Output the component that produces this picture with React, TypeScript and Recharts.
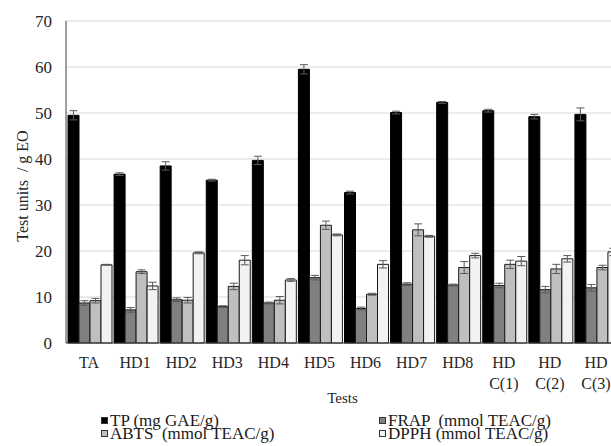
import { BarChart, Bar, XAxis, YAxis, CartesianGrid, ErrorBar, Legend } from "recharts";

// values
const categories = ["TA", "HD1", "HD2", "HD3", "HD4", "HD5", "HD6", "HD7", "HD8", "HD C(1)", "HD C(2)", "HD C(3)"];
const tpValues = [49.5, 36.7, 38.5, 35.4, 39.7, 59.5, 32.7, 50.1, 52.3, 50.5, 49.2, 49.7];
const tpErrors = [1.0, 0.3, 0.9, 0.2, 0.9, 1.0, 0.3, 0.3, 0.2, 0.3, 0.5, 1.4];
const frapValues = [8.7, 7.2, 9.4, 7.9, 8.7, 14.2, 7.5, 12.8, 12.6, 12.5, 11.6, 12.0];
const frapErrors = [0.5, 0.5, 0.4, 0.2, 0.2, 0.5, 0.3, 0.3, 0.2, 0.5, 0.7, 0.7];
const abtsValues = [9.2, 15.5, 9.3, 12.3, 9.3, 25.6, 10.6, 24.6, 16.4, 17.1, 16.1, 16.4];
const abtsErrors = [0.5, 0.4, 0.6, 0.7, 0.8, 0.9, 0.2, 1.3, 1.3, 0.9, 1.0, 0.5];
const dpphValues = [17.0, 12.4, 19.6, 18.0, 13.7, 23.5, 17.1, 23.2, 19.0, 17.8, 18.3, 19.8];
const dpphErrors = [0.1, 0.8, 0.2, 1.0, 0.3, 0.2, 0.8, 0.2, 0.5, 1.0, 0.7, 0.8];
const yTicks = [0, 10, 20, 30, 40, 50, 60, 70];
const seriesNames = ["TP (mg GAE/g)", "FRAP  (mmol TEAC/g)", "ABTS  (mmol TEAC/g)", "DPPH (mmol TEAC/g)"];
const seriesColors = ["#000000", "#808080", "#bfbfbf", "#f2f2f2"];

const data = categories.map((name, i) => ({
  name,
  tp: tpValues[i],
  tpErr: tpErrors[i],
  frap: frapValues[i],
  frapErr: frapErrors[i],
  abts: abtsValues[i],
  abtsErr: abtsErrors[i],
  dpph: dpphValues[i],
  dpphErr: dpphErrors[i],
}));

const FONT = "'Liberation Serif', 'Times New Roman', serif";
const TEXT = "#262626";

function CategoryTick({ x, y, payload }: any) {
  const lines = String(payload.value).split(" ");
  return (
    <text x={x} y={y} textAnchor="middle" fill={TEXT} fontSize={16} fontFamily={FONT}>
      {lines.map((l, i) => (
        <tspan key={i} x={x} dy={i === 0 ? 25 : 21}>{l}</tspan>
      ))}
    </text>
  );
}

function YTitle() {
  // rotated axis title, centred on the plot's vertical middle
  const cx = 28;
  const cy = 186;
  return (
    <text x={cx} y={cy} transform={`rotate(-90 ${cx} ${cy})`} textAnchor="middle" fill={TEXT} fontSize={16} fontFamily={FONT} style={{ whiteSpace: "pre" }}>
      {"Test units  / g EO"}
    </text>
  );
}

function LegendBox() {
  // TP, FRAP on the first row; ABTS, DPPH on the second
  return (
    <div style={{ position: "relative", width: 611, height: 28, fontFamily: FONT, fontSize: 17, color: "#1a1a1a" }}>
      {seriesNames.map((label, i) => (
        <div
          key={label}
          style={{
            position: "absolute",
            left: i % 2 === 0 ? 101 : 379,
            top: i < 2 ? 0 : 13,
            lineHeight: "13px",
            whiteSpace: "pre",
          }}
        >
          <span
            style={{
              display: "inline-block",
              width: 5,
              height: 5,
              marginRight: 2,
              verticalAlign: "2px",
              background: seriesColors[i],
              border: "1px solid #333",
            }}
          />
          {label}
        </div>
      ))}
    </div>
  );
}

export default function App() {
  return (
    <div style={{ position: "fixed", left: 0, top: 0, width: 611, height: 446, overflow: "hidden", background: "#fff", fontFamily: FONT }}>
      <BarChart
        width={640}
        height={446}
        data={data}
        margin={{ top: 21, right: 21, left: 0, bottom: 41 }}
        barGap={0}
        barCategoryGap={2}
      >
        <CartesianGrid vertical={false} stroke="#d9d9d9" />
        <XAxis
          dataKey="name"
          height={62}
          tickLine={false}
          tickSize={0}
          tickMargin={0}
          axisLine={{ stroke: "#404040" }}
          tick={<CategoryTick />}
          interval={0}
          label={{ value: "Tests", position: "insideBottom", offset: 2, fontSize: 15, fill: TEXT, fontFamily: FONT }}
        />
        <YAxis
          width={66}
          domain={[0, 70]}
          ticks={yTicks}
          tickLine={false}
          tickSize={0}
          tickMargin={14}
          axisLine={{ stroke: "#404040" }}
          tick={{ fontSize: 17, fill: TEXT, fontFamily: FONT }}
        />
        <Legend verticalAlign="middle" align="center" content={<LegendBox />} wrapperStyle={{ top: 414, left: 0 }} />
        <Bar dataKey="tp" name={seriesNames[0]} fill={seriesColors[0]} stroke="#000" strokeWidth={1} isAnimationActive={false}>
          <ErrorBar dataKey="tpErr" width={4} stroke="#595959" strokeWidth={1} isAnimationActive={false} />
        </Bar>
        <Bar dataKey="frap" name={seriesNames[1]} fill={seriesColors[1]} stroke="#1a1a1a" strokeWidth={1} isAnimationActive={false}>
          <ErrorBar dataKey="frapErr" width={4} stroke="#595959" strokeWidth={1} isAnimationActive={false} />
        </Bar>
        <Bar dataKey="abts" name={seriesNames[2]} fill={seriesColors[2]} stroke="#1a1a1a" strokeWidth={1} isAnimationActive={false}>
          <ErrorBar dataKey="abtsErr" width={4} stroke="#595959" strokeWidth={1} isAnimationActive={false} />
        </Bar>
        <Bar dataKey="dpph" name={seriesNames[3]} fill={seriesColors[3]} stroke="#1a1a1a" strokeWidth={1} isAnimationActive={false}>
          <ErrorBar dataKey="dpphErr" width={4} stroke="#595959" strokeWidth={1} isAnimationActive={false} />
        </Bar>
        <YTitle />
      </BarChart>
    </div>
  );
}
